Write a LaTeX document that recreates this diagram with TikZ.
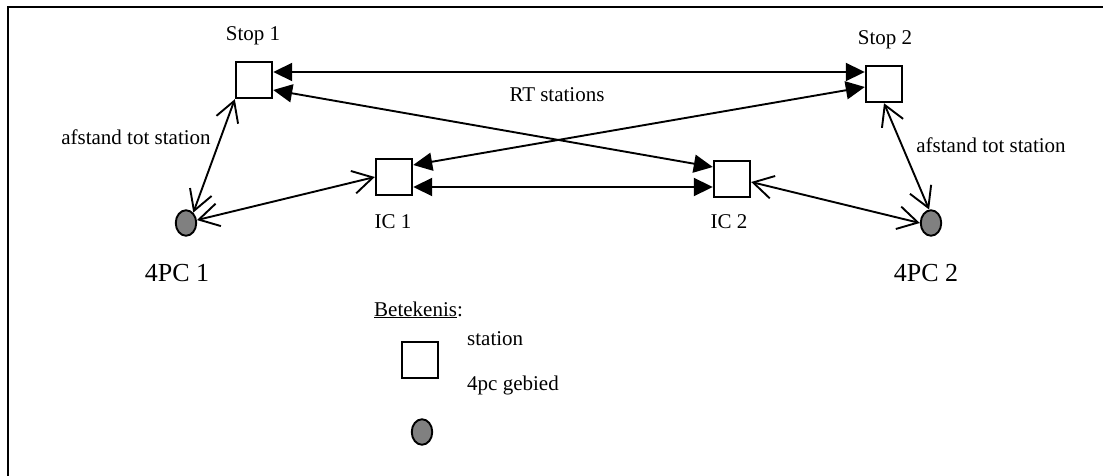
\documentclass[tikz,border=0pt]{standalone}
\usepackage{fontspec}
\setmainfont{Liberation Serif}
\usetikzlibrary{arrows.meta,shapes.geometric}
\definecolor{vlakgrijs}{RGB}{128,128,128}

\begin{document}
\begin{tikzpicture}[x=1pt,y=-1pt,
		station/.style={draw,line width=1.9pt,fill=white,minimum size=36.5pt,inner sep=0pt},
		pcvlak/.style={draw,line width=1.9pt,fill=vlakgrijs,ellipse,minimum width=20.5pt,minimum height=25.5pt,inner sep=0pt},
		tekst/.style={font=\fontsize{21}{25}\selectfont,inner sep=0pt,anchor=base},
		groot/.style={font=\fontsize{26}{30}\selectfont,inner sep=0pt,anchor=base},
		rtpijl/.style={line width=1.9pt,{Triangle[length=19pt,width=18pt]}-{Triangle[length=19pt,width=18pt]}},
		afstpijl/.style={line width=1.9pt,{Straight Barb[length=20pt,width=23pt]}-{Straight Barb[length=20pt,width=23pt]}}]
	\useasboundingbox (0,0) rectangle (1103,476);
	\draw[line width=2pt] (8,476) -- (8,7) -- (1103,7);

	% haltes en gebieden
	\node[station] (stopA) at (254,80) {};
	\node[station] (stopB) at (884,84) {};
	\node[station] (icA) at (394,177) {};
	\node[station] (icB) at (732,179) {};
	\node[pcvlak] (pcA) at (186,223) {};
	\node[pcvlak] (pcB) at (931,223) {};

	\node[tekst] (stopAtxt) at (253,41) {Stop 1};
	\node[tekst] (stopBtxt) at (885,45) {Stop 2};
	\node[tekst] (icAtxt) at (393,228) {IC 1};
	\node[tekst] (icBtxt) at (729,228) {IC 2};
	\node[groot] (pcAtxt) at (177,281) {4PC 1};
	\node[groot] (pcBtxt) at (926,281) {4PC 2};
	\node[tekst] (afstA) at (136,145) {afstand tot station};
	\node[tekst] (afstB) at (991,153) {afstand tot station};
	\node[tekst] (rttxt) at (557,102) {RT stations};

	% RT verbindingen
	\draw[rtpijl] ([yshift=8pt]stopA.east) -- ([yshift=12pt]stopB.west);
	\draw[rtpijl] ([yshift=-10pt]stopA.east) -- ([yshift=12pt]icB.west);
	\draw[rtpijl] ([yshift=-3pt]stopB.west) -- ([yshift=12pt]icA.east);
	\draw[rtpijl] ([yshift=-10pt]icA.east) -- ([yshift=-8pt]icB.west);

	% afstand tot station
	\draw[afstpijl] (stopA.south west) -- (pcA.55);
	\draw[afstpijl] (pcA.15) -- (icA.west);
	\draw[afstpijl] (stopB.south) -- (pcB.98);
	\draw[afstpijl] ([yshift=-3pt]icB.east) -- (pcB.west);

	% legenda
	\node[tekst,anchor=base west] (legkop) at (374,316) {\underline{Betekenis}:};
	\node[station] (legstation) at (420,360) {};
	\node[tekst,anchor=base west] (legstationtxt) at (467,345) {station};
	\node[tekst,anchor=base west] (leggebiedtxt) at (467,390) {4pc gebied};
	\node[pcvlak] (leggebied) at (422,432) {};
\end{tikzpicture}
\end{document}
